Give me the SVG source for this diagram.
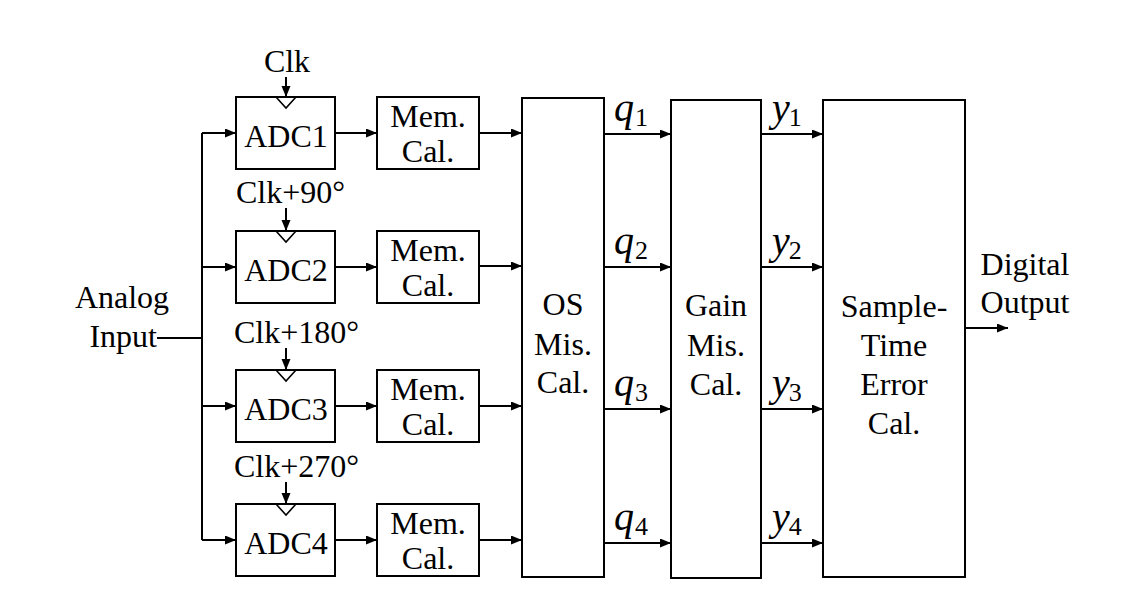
<svg xmlns="http://www.w3.org/2000/svg" width="1137" height="612" viewBox="0 0 1137 612">
<style>
text{font-family:"Liberation Serif","Times New Roman",Times,serif;font-size:32px;fill:#000}
.c{text-anchor:middle}
.v{font-style:italic;font-size:40px}
.s{font-style:normal;font-size:26px}
.box{fill:#fff;stroke:#000;stroke-width:2}
.ln{fill:none;stroke:#000;stroke-width:2}
.ar{fill:none;stroke:#000;stroke-width:2;marker-end:url(#ah)}
.ck{fill:none;stroke:#000;stroke-width:1.6}
</style>
<defs>
<marker id="ah" markerUnits="userSpaceOnUse" markerWidth="12" markerHeight="10" refX="11" refY="4.5" orient="auto">
<path d="M0,0 L11,4.5 L0,9 z" fill="#000"/>
</marker>
</defs>
<rect width="1137" height="612" fill="#fff"/>

<g id="connectors">
<path class="ln" d="M157,338 H202 M202,133 V540"/>
<path class="ar" d="M202,133 H236"/>
<path class="ar" d="M202,267 H236"/>
<path class="ar" d="M202,406 H236"/>
<path class="ar" d="M202,540 H236"/>
<path class="ar" d="M335,133 H377"/>
<path class="ar" d="M335,267 H377"/>
<path class="ar" d="M335,406 H377"/>
<path class="ar" d="M335,540 H377"/>
<path class="ar" d="M479,133 H522"/>
<path class="ar" d="M479,266 H522"/>
<path class="ar" d="M479,406 H522"/>
<path class="ar" d="M479,540 H522"/>
<path class="ar" d="M604,134 H671"/>
<path class="ar" d="M604,267 H671"/>
<path class="ar" d="M604,409 H671"/>
<path class="ar" d="M604,543 H671"/>
<path class="ar" d="M761,134 H823"/>
<path class="ar" d="M761,267 H823"/>
<path class="ar" d="M761,409 H823"/>
<path class="ar" d="M761,543 H823"/>
<path class="ar" d="M965,328 H1008"/>
<path class="ar" d="M286,77 V97"/>
<path class="ar" d="M286,208 V231"/>
<path class="ar" d="M286,348 V370"/>
<path class="ar" d="M286,482 V504"/>
</g>

<g id="analog-input">
<text class="c" x="122" y="308">Analog</text>
<text x="157" y="347" text-anchor="end">Input</text>
</g>

<g id="adc1">
<rect class="box" x="236" y="97" width="99" height="72"/>
<polyline class="ck" points="276,97 286,108 296,97"/>
<text class="c" x="286" y="147">ADC1</text>
<text class="c" x="287" y="72">Clk</text>
</g>
<g id="adc2">
<rect class="box" x="236" y="231" width="99" height="72"/>
<polyline class="ck" points="276,231 286,242 296,231"/>
<text class="c" x="286" y="281">ADC2</text>
<text x="236" y="203">Clk+90°</text>
</g>
<g id="adc3">
<rect class="box" x="236" y="370" width="99" height="72"/>
<polyline class="ck" points="276,370 286,381 296,370"/>
<text class="c" x="286" y="420">ADC3</text>
<text x="234" y="343">Clk+180°</text>
</g>
<g id="adc4">
<rect class="box" x="236" y="504" width="99" height="72"/>
<polyline class="ck" points="276,504 286,515 296,504"/>
<text class="c" x="286" y="554">ADC4</text>
<text x="234" y="477">Clk+270°</text>
</g>

<g id="mem1">
<rect class="box" x="377" y="97" width="102" height="72"/>
<text class="c" x="428" y="127">Mem.</text>
<text class="c" x="428" y="162">Cal.</text>
</g>
<g id="mem2">
<rect class="box" x="377" y="231" width="102" height="72"/>
<text class="c" x="428" y="261">Mem.</text>
<text class="c" x="428" y="296">Cal.</text>
</g>
<g id="mem3">
<rect class="box" x="377" y="370" width="102" height="72"/>
<text class="c" x="428" y="400">Mem.</text>
<text class="c" x="428" y="435">Cal.</text>
</g>
<g id="mem4">
<rect class="box" x="377" y="504" width="102" height="72"/>
<text class="c" x="428" y="534">Mem.</text>
<text class="c" x="428" y="569">Cal.</text>
</g>

<g id="os-cal">
<rect class="box" x="522" y="98" width="82" height="479"/>
<text class="c" x="563" y="315">OS</text>
<text class="c" x="563" y="355">Mis.</text>
<text class="c" x="563" y="393">Cal.</text>
</g>

<g id="gain-cal">
<rect class="box" x="671" y="100" width="90" height="478"/>
<text class="c" x="716" y="316">Gain</text>
<text class="c" x="716" y="356">Mis.</text>
<text class="c" x="716" y="395">Cal.</text>
</g>

<g id="sample-time-cal">
<rect class="box" x="823" y="100" width="142" height="477"/>
<text class="c" x="894" y="317">Sample-</text>
<text class="c" x="894" y="356">Time</text>
<text class="c" x="894" y="395">Error</text>
<text class="c" x="894" y="434">Cal.</text>
</g>

<g id="digital-output">
<text class="c" x="1025" y="275">Digital</text>
<text class="c" x="1025" y="313">Output</text>
</g>

<g id="labels">
<text class="v" x="614" y="121">q<tspan class="s" dx="1" dy="5">1</tspan></text>
<text class="v" x="614" y="254">q<tspan class="s" dx="1" dy="5">2</tspan></text>
<text class="v" x="614" y="396">q<tspan class="s" dx="1" dy="5">3</tspan></text>
<text class="v" x="614" y="530">q<tspan class="s" dx="1" dy="5">4</tspan></text>
<text class="v" x="772" y="121">y<tspan class="s" dx="-1" dy="5">1</tspan></text>
<text class="v" x="772" y="254">y<tspan class="s" dx="-1" dy="5">2</tspan></text>
<text class="v" x="772" y="396">y<tspan class="s" dx="-1" dy="5">3</tspan></text>
<text class="v" x="772" y="530">y<tspan class="s" dx="-1" dy="5">4</tspan></text>
</g>
</svg>
